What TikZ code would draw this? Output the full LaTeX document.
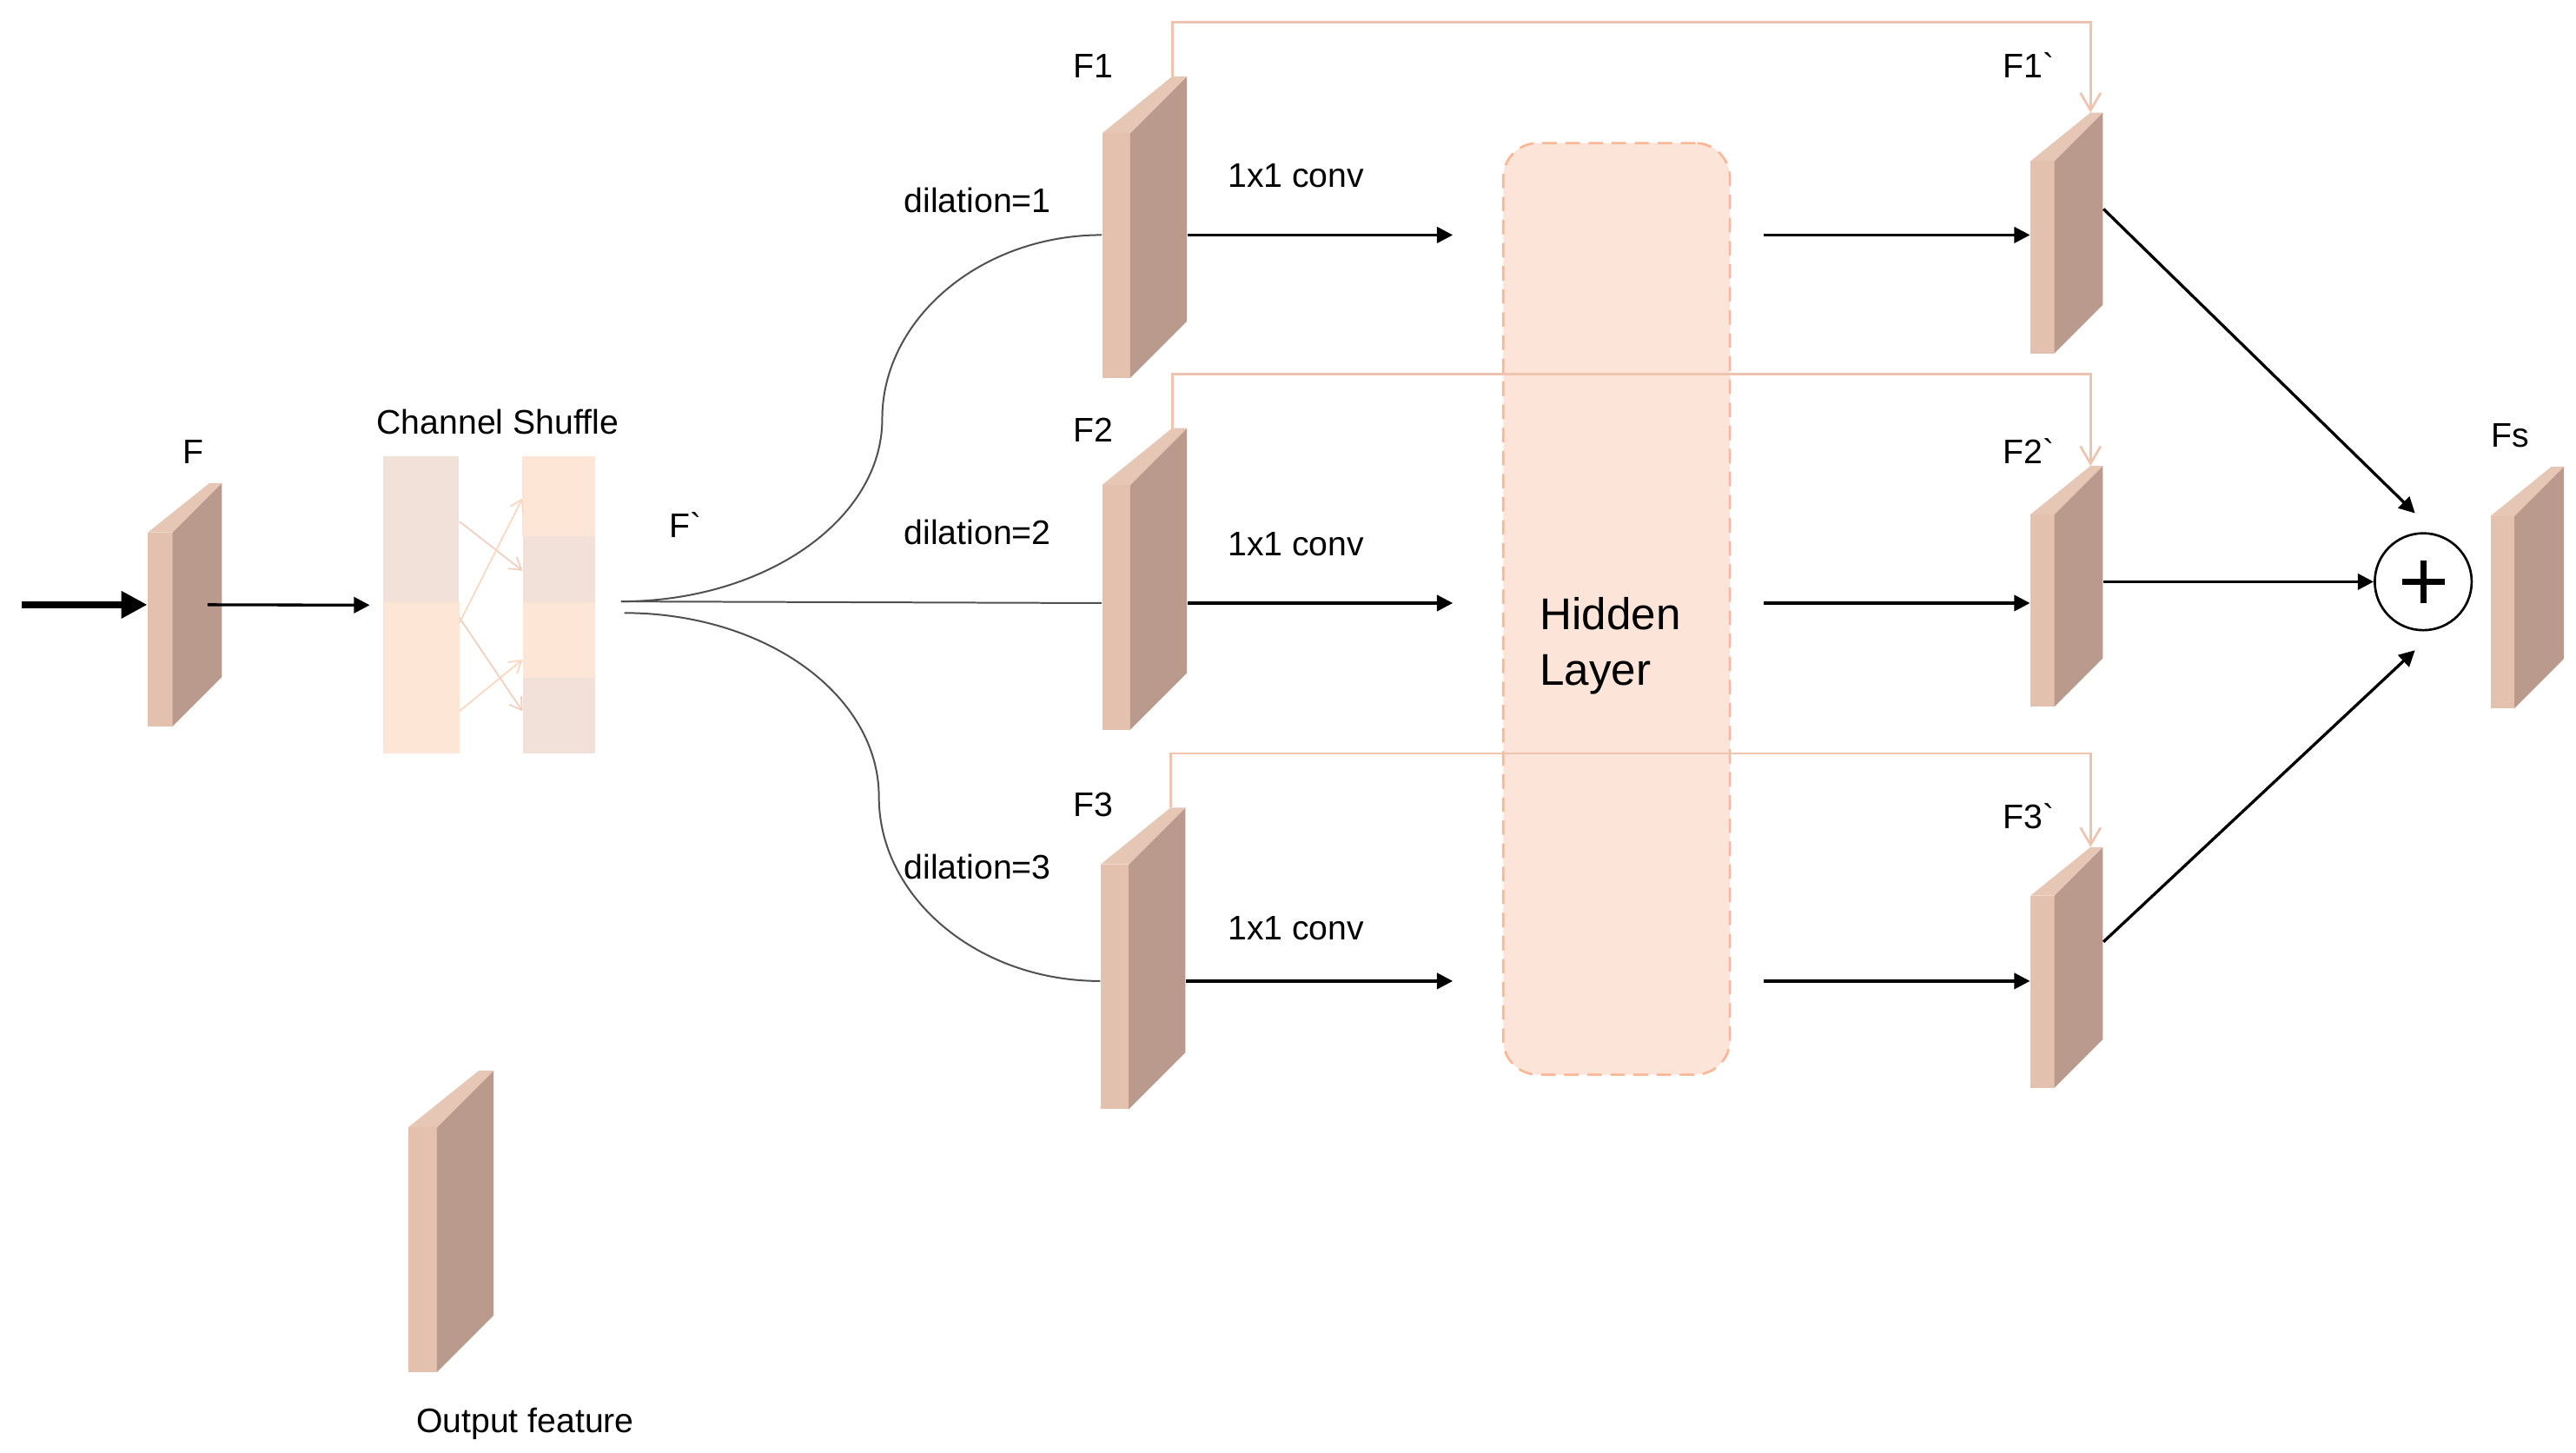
\documentclass[tikz,border=0pt]{standalone}
\usepackage{fontspec}
\newfontfamily\labfont{Liberation Sans}
\usetikzlibrary{arrows.meta,calc,fit}
\definecolor{frontc}{RGB}{227,193,174}
\definecolor{sidec}{RGB}{185,154,140}
\definecolor{topc}{RGB}{230,198,181}
\definecolor{skipc}{RGB}{239,196,174}
\definecolor{hidfill}{RGB}{253,228,216}
\definecolor{hiddraw}{RGB}{250,183,150}
\definecolor{shgray}{RGB}{242,225,217}
\definecolor{shpeach}{RGB}{254,230,214}
\definecolor{sharpink}{RGB}{240,206,190}
\definecolor{sharpeach}{RGB}{253,214,190}
\definecolor{fanc}{RGB}{80,80,80}

% name, x0, ytop, w, h, depth, back width of top face
\newcommand{\slab}[7]{%
  \fill[frontc] (#2,#3) rectangle (#2+#4,#3+#5);
  \fill[sidec] (#2+#4,#3) -- (#2+#4+#6,#3-#6) -- (#2+#4+#6,#3+#5-#6) -- (#2+#4,#3+#5) -- cycle;
  \fill[topc] (#2,#3) -- (#2+#4,#3) -- (#2+#4+#6,#3-#6) -- (#2+#4+#6-#7,#3-#6) -- cycle;
  \node[fit={(#2,#3-#6) (#2+#4+#6,#3+#5)}, inner sep=0pt] (#1) {};
  \coordinate (#1-tl) at (#2+#4+#6-#7,#3-#6);
}

\begin{document}
\begin{tikzpicture}[x=0.02cm,y=-0.02cm,
  lbl/.style={font=\labfont\fontsize{11.8}{14}\selectfont, inner sep=0pt, anchor=base west},
  arr/.style={line width=1pt, -{Triangle[length=5.5pt,width=5.5pt]}},
  skipline/.style={draw=skipc, line width=0.8pt, -{Straight Barb[length=6pt,width=7pt]}},
  fan/.style={draw=fanc, line width=0.6pt},
  sharr/.style={line width=0.5pt, -{Straight Barb[length=4pt,width=5pt]}},
  hidbox/.style={draw=hiddraw, fill=hidfill, dash pattern=on 5pt off 3pt, line width=0.8pt,
     rounded corners=12pt, minimum width=2.76cm, minimum height=11.34cm, inner sep=0pt}]

\fill[white] (0,0) rectangle (1568,884.2);
\useasboundingbox (0,0) rectangle (1568,884.2);

% hidden layer box
\node[hidbox] (hid) at (984,370.5) {};
\node[font=\labfont\fontsize{15.4}{19.35}\selectfont, align=left, anchor=north west, inner sep=0pt] (hidtxt) at (937,363) {Hidden\\Layer};

% slabs
\slab{F}{90}{324}{15}{118}{30}{7.5}
\slab{F1}{671}{81}{17}{149}{34.5}{9}
\slab{F2}{671}{295}{17}{149}{34.5}{9}
\slab{F3}{670}{526}{17}{149}{34.5}{9}
\slab{F1p}{1236}{98}{14.5}{117}{29.5}{7.5}
\slab{F2p}{1236}{313}{14.5}{117}{29.5}{7.5}
\slab{F3p}{1236}{545}{14.5}{117}{29.5}{7.5}
\slab{Fs}{1516}{314}{14.5}{117}{30}{7.5}
\slab{outf}{248.5}{686}{17.5}{149}{34.5}{9}

% channel shuffle
\node[fit={(233.4,278.2) (279.3,458.3)}, inner sep=0pt] (sl) {};
\node[fit={(318.4,278.2) (362.1,458.3)}, inner sep=0pt] (sr) {};
\fill[shgray] (sl.north west) rectangle (279.3,366.7);
\fill[shpeach] (233.4,366.7) rectangle (sl.south east);
\fill[shpeach] (sr.north west) rectangle (362.1,326.1);
\fill[shgray] (318.4,326.1) rectangle (362.1,366.7);
\fill[shpeach] (318.4,366.7) rectangle (362.1,412.5);
\fill[shgray] (318.4,412.5) rectangle (sr.south east);
\draw[sharr, sharpink] (sl.east |- 0,317.3) -- (sr.west |- 0,347.3);
\draw[sharr, sharpink] (sl.east |- 0,375.9) -- (sr.west |- 0,432.8);
\draw[sharr, sharpeach] (sl.east |- 0,379) -- (sr.west |- 0,303.2);
\draw[sharr, sharpeach] (sl.east |- 0,432.7) -- (sr.west |- 0,401.4);

% input arrows
\coordinate (src) at (13,368);
\draw[line width=2.2pt, -{Triangle[length=9pt,width=9pt]}] (src) -- (F.west);
\draw[arr] ($(F.east)+(-9,0)$) -- ($(sl.west)+(-8,0)$);

% fan from F`
\coordinate (fo) at (378,366);
\coordinate (fo3) at (380,373);
\coordinate (row1) at (0,143);
\coordinate (row2) at (0,367);
\coordinate (row3) at (0,597);
\coordinate (bend1) at (537,255);
\coordinate (bend3) at (535,485);
\draw[fan] (fo) .. controls (466,366) and (537,316) .. (bend1) .. controls (537,194) and (597,143) .. (F1.west |- row1);
\draw[fan] (fo) -- (F2.west |- row2);
\draw[fan] (fo3) .. controls (466,373) and (535,423) .. (bend3) .. controls (535,546) and (595,597) .. (F3.west |- row3);

% skip connections
\draw[skipline] (F1-tl) -- ++(0,-33) -| (F1p-tl);
\draw[skipline] (F2-tl) -- ++(0,-33) -| (F2p-tl);
\draw[skipline] (F3-tl) -- ++(0,-33) -| (F3p-tl);

% conv arrows
\foreach \r/\a/\b in {row1/F1/F1p, row2/F2/F2p, row3/F3/F3p} {
  \draw[arr] (\a.east |- \r) -- ($(hid.west |- \r)+(-30,0)$);
  \draw[arr] ($(hid.east |- \r)+(20,0)$) -- (\b.west |- \r);
}

% sum
\node[circle, draw, line width=0.8pt, minimum size=1.18cm, inner sep=0pt] (plus) at (1475,354) {};
\draw[line width=2pt] ($(plus.center)+(-13,0)$) -- ($(plus.center)+(13,0)$)
  ($(plus.center)+(0,-13)$) -- ($(plus.center)+(0,13)$);
\draw[arr] ($(F1p.north east)+(0,59)$) -- ($(plus.north)+(-5,-11.5)$);
\draw[arr] (F2p.east |- plus.west) -- (plus.west);
\draw[arr] ($(F3p.north east)+(0,58)$) -- ($(plus.south)+(-5,11.5)$);

% labels
\node[lbl] (lF) at (111,282) {F};
\node[lbl] (lCS) at (229,264) {Channel Shuffle};
\node[lbl] (lFp) at (407,327) {F`};
\node[lbl] (lF1) at (653,47.5) {F1};
\node[lbl] (lF2) at (653,269) {F2};
\node[lbl] (lF3) at (653,497) {F3};
\node[lbl] (lF1p) at (1219,47.5) {F1`};
\node[lbl] (lF2p) at (1219,282) {F2`};
\node[lbl] (lF3p) at (1219,504) {F3`};
\node[lbl] (lFs) at (1516,272) {Fs};
\node[lbl] (ld1) at (550,129.5) {dilation=1};
\node[lbl] (ld2) at (550,331.5) {dilation=2};
\node[lbl] (ld3) at (550,535) {dilation=3};
\node[lbl] (lc1) at (747,114) {1x1 conv};
\node[lbl] (lc2) at (747,338) {1x1 conv};
\node[lbl] (lc3) at (747,572) {1x1 conv};
\node[lbl] (lout) at (253,872) {Output feature};
\end{tikzpicture}
\end{document}
